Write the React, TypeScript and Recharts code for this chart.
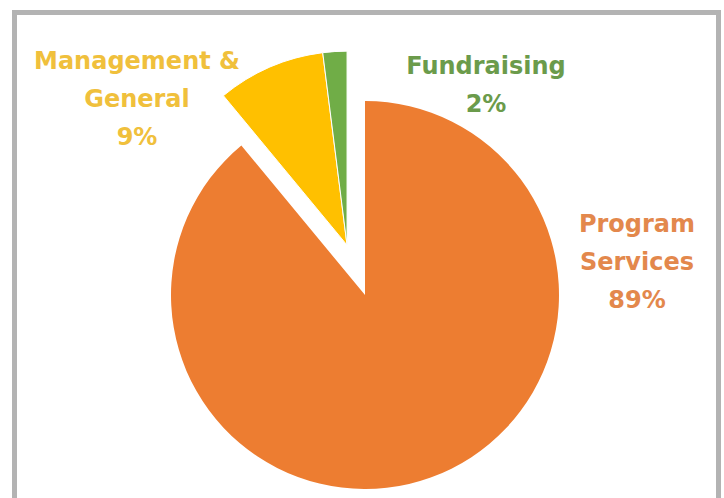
import { PieChart, Pie, Cell } from "recharts";

const categories = ["Program Services", "Management & General", "Fundraising"];
const shares = [89, 9, 2];
const sliceColors = ["#ED7D31", "#FFC000", "#70AD47"];
const labelColors = ["#E3884C", "#F0C03C", "#6B9B4B"];
const labelLines = [
  ["Program", "Services", "89%"],
  ["Management &", "General", "9%"],
  ["Fundraising", "2%"],
];
const exploded = [false, true, true];

const data = categories.map((name, i) => ({ name, value: shares[i] }));

const CX = 365;
const CY = 295;
const R = 194;
const EXPLODE = 53;

// exploded slices move together along their shared mid-angle
const total = shares.reduce((a, b) => a + b, 0);
let start = 0;
let explodedStart = -1;
let explodedEnd = 0;
shares.forEach((v, i) => {
  if (exploded[i]) {
    if (explodedStart < 0) explodedStart = start;
    explodedEnd = start + v;
  }
  start += v;
});
const midDeg = (((explodedStart + explodedEnd) / 2) / total) * 360; // clockwise from top
const dx = Math.sin((midDeg * Math.PI) / 180) * EXPLODE;
const dy = -Math.cos((midDeg * Math.PI) / 180) * EXPLODE;

const labelPos = [
  { x: 637, y: 205 },
  { x: 137, y: 42 },
  { x: 486, y: 47 },
];

export default function App() {
  return (
    <div style={{ position: "relative", width: 724, height: 498, overflow: "hidden", background: "#fff" }}>
      <style>{`html,body{margin:0;padding:0;overflow:hidden;}`}</style>
      <div
        style={{
          position: "absolute",
          left: 12,
          top: 10,
          width: 709,
          height: 520,
          boxSizing: "border-box",
          borderTop: "5px solid #b3b3b3",
          borderLeft: "5px solid #b3b3b3",
          borderRight: "5px solid #b3b3b3",
        }}
      />
      <div style={{ position: "absolute", left: 0, top: 0 }}>
        <PieChart width={724} height={498} margin={{ top: 0, right: 0, bottom: 0, left: 0 }}>
          <Pie
            data={data}
            dataKey="value"
            nameKey="name"
            cx={CX}
            cy={CY}
            outerRadius={R}
            startAngle={90}
            endAngle={-270}
            isAnimationActive={false}
          >
            {data.map((d, i) => (
              <Cell
                key={d.name}
                fill={exploded[i] ? "transparent" : sliceColors[i]}
                stroke="none"
              />
            ))}
          </Pie>
          <Pie
            data={data}
            dataKey="value"
            nameKey="name"
            cx={CX + dx}
            cy={CY + dy}
            outerRadius={R}
            startAngle={90}
            endAngle={-270}
            isAnimationActive={false}
          >
            {data.map((d, i) => (
              <Cell
                key={d.name}
                fill={exploded[i] ? sliceColors[i] : "transparent"}
                stroke={exploded[i] ? "#fff" : "none"}
                strokeWidth={1}
              />
            ))}
          </Pie>
        </PieChart>
      </div>
      {labelLines.map((lines, i) => (
        <div
          key={categories[i]}
          style={{
            position: "absolute",
            left: labelPos[i].x - 80,
            top: labelPos[i].y,
            width: 160,
            whiteSpace: "nowrap",
            display: "flex",
            flexDirection: "column",
            alignItems: "center",
            fontFamily: "DejaVu Sans",
            fontWeight: "bold",
            fontSize: 24,
            lineHeight: "38px",
            color: labelColors[i],
          }}
        >
          {lines.map((l) => (
            <div key={l}>{l}</div>
          ))}
        </div>
      ))}
    </div>
  );
}
